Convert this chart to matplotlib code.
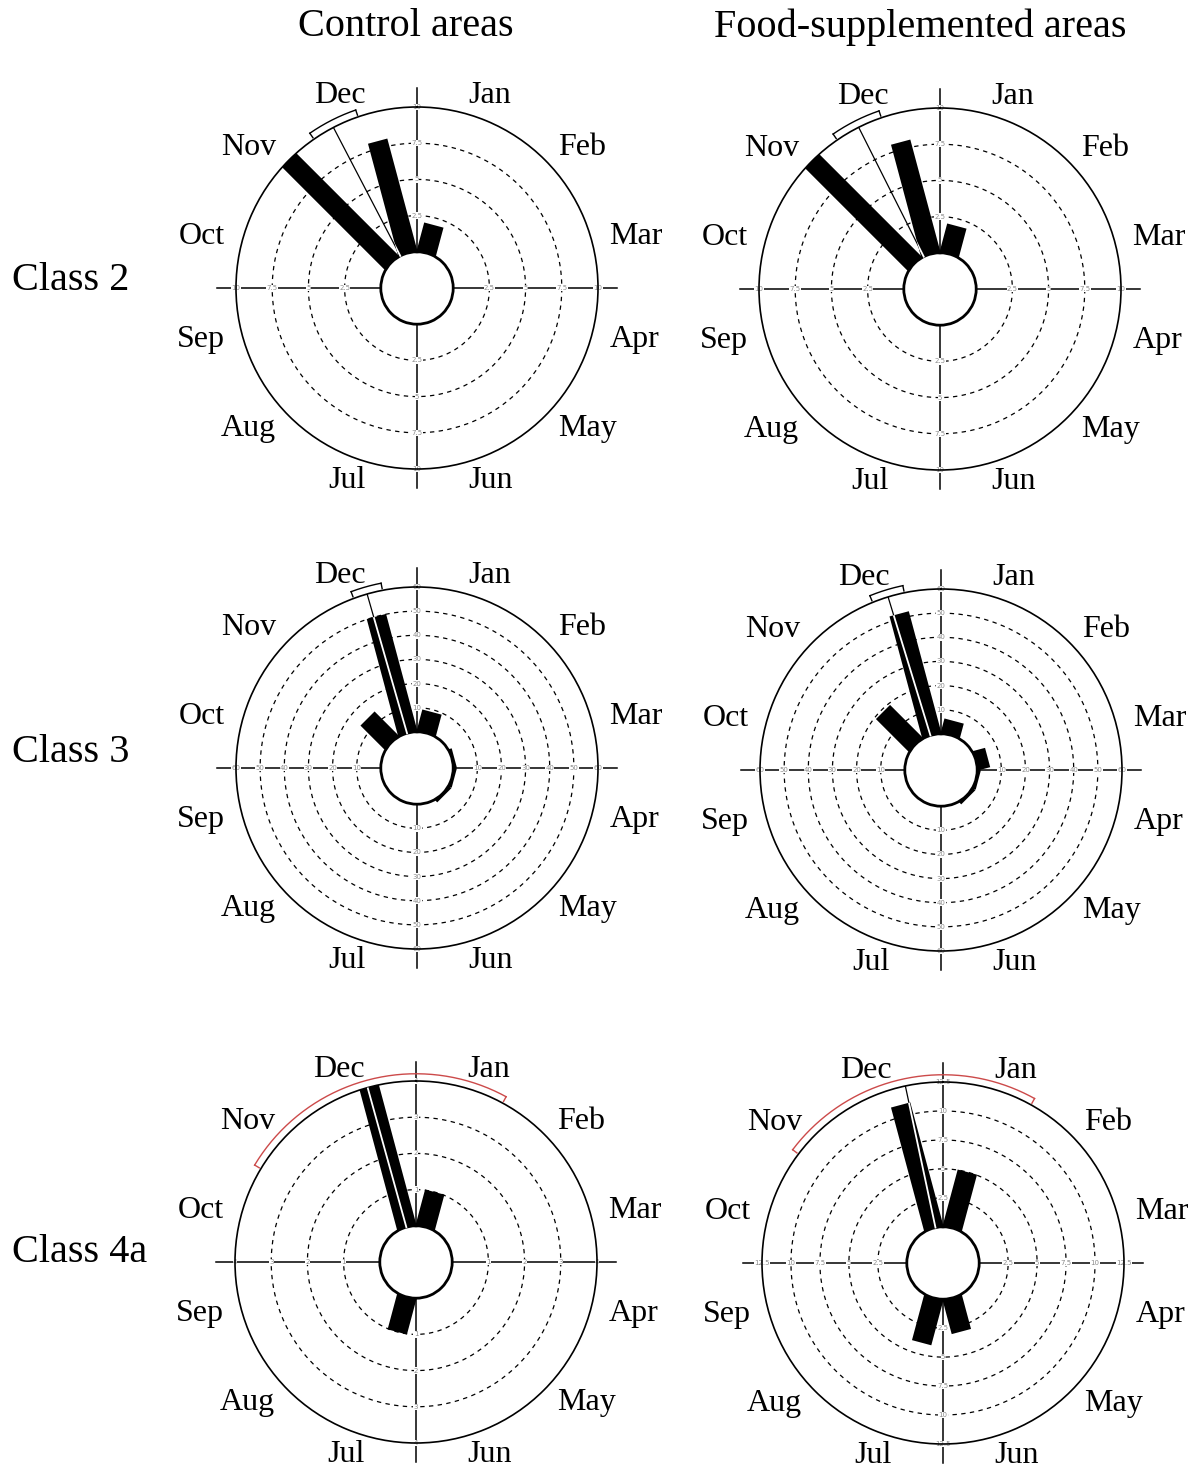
import numpy as np
import matplotlib
matplotlib.use("Agg")
import matplotlib.pyplot as plt

plt.rcParams["font.family"] = ["Liberation Serif", "DejaVu Serif"]

MONTHS = ["Jan", "Feb", "Mar", "Apr", "May", "Jun",
          "Jul", "Aug", "Sep", "Oct", "Nov", "Dec"]

# monthly counts, Jan..Dec
class2_control = [2, 0, 0, 0, 0, 0, 0, 0, 0, 0, 10, 8]
class2_food = [2, 0, 0, 0, 0, 0, 0, 0, 0, 0, 10, 8]
class3_control = [9, 0, 1, 1, 1, 0, 0, 0, 0, 0, 14, 50]
class3_food = [6, 0, 5, 1, 1, 0, 0, 0, 0, 0, 19, 52]
class4a_control = [1, 0, 0, 0, 0, 0, 1, 0, 0, 0, 0, 4]
class4a_food = [5, 0, 0, 0, 0, 3, 4, 0, 0, 0, 0, 11]

# mean direction and 95% CI (degrees clockwise from 1 Jan)
class2_control_mean, class2_control_ci = 332.5, (325.3, 341.0)
class2_food_mean, class2_food_ci = 333.3, (325.4, 341.1)
class3_control_mean, class3_control_ci = 344.0, (339.5, 349.0)
class3_food_mean, class3_food_ci = 343.0, (337.8, 348.3)
class4a_control_mean, class4a_control_ci = 344.5, (301.0, 388.6)
class4a_food_mean, class4a_food_ci = 348.0, (307.0, 389.1)

# radial scales: outer circle value and ring step
scale_max = [10, 10, 60, 60, 4, 12.5]
scale_step = [2.5, 2.5, 10, 10, 1, 2.5]

col_titles = ["Control areas", "Food-supplemented areas"]
row_titles = ["Class 2", "Class 3", "Class 4a"]

W, H = 1197, 1474
R_PX = 181
centres = [(417, 288), (940, 289), (417, 768), (941, 770), (416, 1262), (943, 1263)]
HOLE_FRAC = 0.25       # hole radius as a fraction of the outer scale
BAR_PX = 20            # bar width in pixels


def fmt(v):
    return f"{v:g}"


def rose(ax, counts, mean, ci, rmax, step, ci_color):
    hole = HOLE_FRAC * rmax
    span = rmax + hole
    ax.set_theta_zero_location("N")
    ax.set_theta_direction(-1)
    ax.set_ylim(0, rmax)
    ax.set_rorigin(-hole)
    ax.set_xticks([])
    ax.set_yticks([])
    ax.grid(False)
    ax.spines["polar"].set_linewidth(1.2)
    ax.spines["inner"].set_linewidth(2.0)

    # dashed rings
    full = np.linspace(0, 2 * np.pi, 400)
    rings = np.arange(step, rmax - step / 2, step)
    for rv in rings:
        ax.plot(full, np.full_like(full, rv), color="black", lw=0.9,
                ls=(0, (3.5, 3.5)), zorder=1)

    # cross-hair axes running past the outer circle
    r_ext = 1.105 * span - hole
    for a in (0, 90, 180, 270):
        ax.plot([np.deg2rad(a)] * 2, [0, r_ext], color="black", lw=1.1,
                zorder=1.5, clip_on=False)
        for rv in list(rings) + [rmax]:
            ax.text(np.deg2rad(a), rv, fmt(rv), fontsize=5, color="#8c8c8c",
                    ha="center", va="center", zorder=2,
                    family="DejaVu Sans",
                    bbox=dict(fc="white", ec="none", pad=0.2))

    # bars as constant-width rectangles from the centre
    half = BAR_PX / 2 / R_PX * span
    month_deg = 15 + 30 * np.arange(12)
    patches = {}
    for deg, v in zip(month_deg, counts):
        if v <= 0:
            continue
        t = np.deg2rad(deg)
        u = np.array([np.sin(t), np.cos(t)])
        n = np.array([np.cos(t), -np.sin(t)])
        d = v + hole
        pts = [half * n, d * u + half * n, d * u - half * n, -half * n]
        th = [np.arctan2(p[0], p[1]) for p in pts]
        rr = [np.hypot(p[0], p[1]) - hole for p in pts]
        poly, = ax.fill(th, rr, color="black", lw=0, zorder=3)
        patches[deg] = poly

    # mean direction; white where it crosses a bar
    tm = np.deg2rad(mean)
    ax.plot([tm, tm], [0, rmax], color="black", lw=0.9, zorder=4)
    if patches:
        near = min(patches, key=lambda k: abs((k - mean + 180) % 360 - 180))
        wl, = ax.plot([tm, tm], [0, rmax], color="white", lw=1.3, zorder=5)
        wl.set_clip_path(patches[near])

    # confidence bracket just outside the outer circle
    rb = 1.04 * span - hole
    rt = 1.01 * span - hole
    arc = np.deg2rad(np.linspace(ci[0], ci[1], 200))
    ax.plot(arc, np.full_like(arc, rb), color=ci_color, lw=1.0,
            clip_on=False, zorder=4)
    for e in ci:
        ax.plot([np.deg2rad(e)] * 2, [rt, rb], color=ci_color, lw=1.0,
                clip_on=False, zorder=4)

    # month names around the dial
    for deg, name in zip(month_deg, MONTHS):
        t = np.deg2rad(deg)
        x = 0.5 + 0.55 * np.sin(t)
        y = 0.5 + 0.55 * np.cos(t)
        ax.text(x, y, name, transform=ax.transAxes, fontsize=23,
                ha="left" if deg < 180 else "right", va="center")


fig = plt.figure(figsize=(W / 100, H / 100), dpi=100)

panels = [
    (class2_control, class2_control_mean, class2_control_ci, "black"),
    (class2_food, class2_food_mean, class2_food_ci, "black"),
    (class3_control, class3_control_mean, class3_control_ci, "black"),
    (class3_food, class3_food_mean, class3_food_ci, "black"),
    (class4a_control, class4a_control_mean, class4a_control_ci, "#cc4a4a"),
    (class4a_food, class4a_food_mean, class4a_food_ci, "#cc4a4a"),
]

for i, (counts, mean, ci, col) in enumerate(panels):
    cx, cy = centres[i]
    rect = [(cx - R_PX) / W, (H - cy - R_PX) / H, 2 * R_PX / W, 2 * R_PX / H]
    ax = fig.add_axes(rect, projection="polar")
    rose(ax, counts, mean, ci, scale_max[i], scale_step[i], col)

fig.text(406 / W, 1 - 27 / H, col_titles[0], ha="center", va="center", fontsize=29)
fig.text(920 / W, 1 - 27 / H, col_titles[1], ha="center", va="center", fontsize=29)
for label, y in zip(row_titles, (280, 752, 1253)):
    fig.text(12 / W, 1 - y / H, label, ha="left", va="center", fontsize=29)

fig.savefig("out.png", dpi=100, facecolor="white")
